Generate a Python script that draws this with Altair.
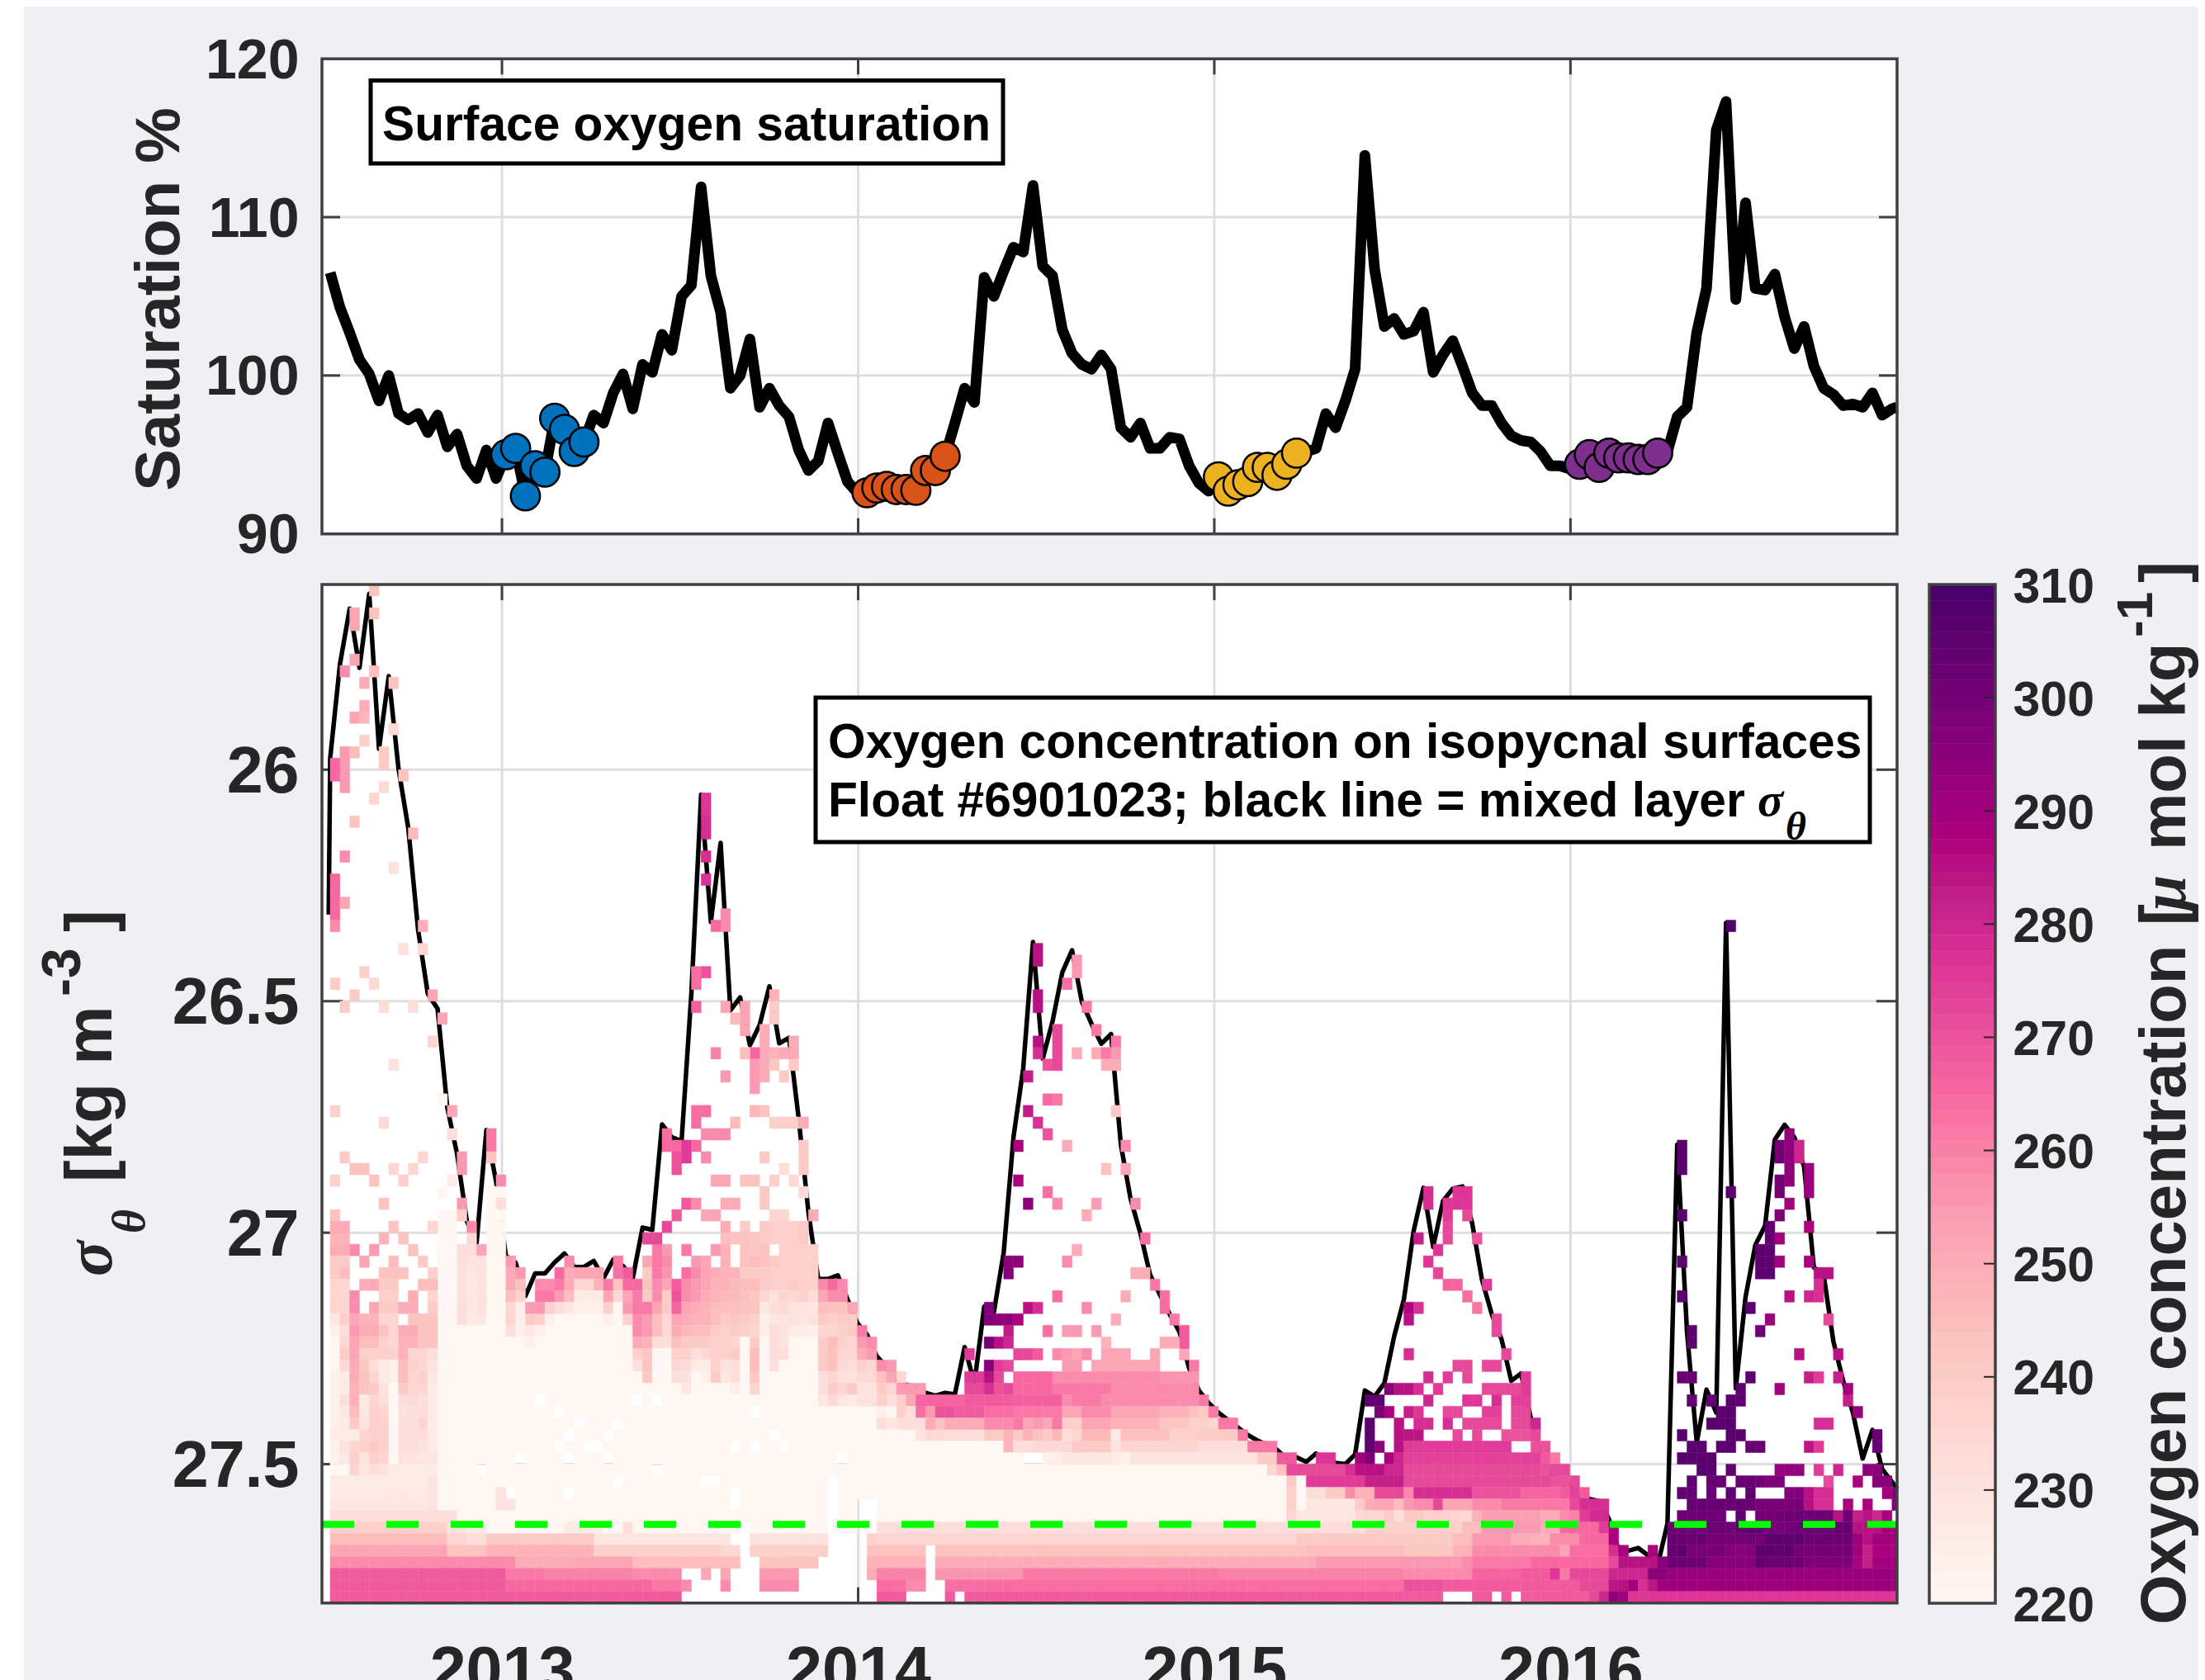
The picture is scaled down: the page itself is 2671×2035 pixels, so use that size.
import altair as alt
import pandas as pd

alt.data_transformers.disable_max_rows()

BG = "#f0eff4"
INK = "#262626"
FRAME = "#404040"
GRID = "#dedede"
SANS = "Liberation Sans"
SERIF = "Liberation Serif"

# float sampling: one profile per 10 days, positions as decimal years
T0 = 2012.5177
DT = 0.027406
XMIN, XMAX = 2012.4946, 2016.917
X_PX = [382, 2290]
YEARS = [2013, 2014, 2015, 2016]

SAT_TICKS = [90, 100, 110, 120]
SIG_TICKS = [26, 26.5, 27, 27.5]
O2_TICKS = [220, 230, 240, 250, 260, 270, 280, 290, 300, 310]
SIG_REF = 27.63

SAT = [106.5, 104.3, 102.7, 101.0, 100.1, 98.4, 100.0, 97.6, 97.2, 97.6, 96.4, 97.5, 95.5, 96.3, 94.3, 93.5,
       95.3, 93.5, 95.0, 95.4, 92.4, 94.3, 93.9, 97.3, 96.6, 95.2, 95.8, 97.5, 97.0, 98.9, 100.1, 97.9,
       100.7, 100.2, 102.6, 101.6, 105.0, 105.7, 111.9, 106.3, 104.0, 99.2, 100.0, 102.3, 98.0, 99.2, 98.1, 97.4,
       95.3, 94.0, 94.6, 97.0, 95.1, 93.3, 92.6, 92.6, 92.9, 93.0, 92.8, 92.8, 92.75, 94.0, 94.0, 94.9,
       97.0, 99.2, 98.3, 106.2, 105.0, 106.6, 108.1, 107.8, 112.0, 106.9, 106.3, 102.9, 101.4, 100.7, 100.4, 101.3,
       100.4, 96.7, 96.1, 97.0, 95.4, 95.4, 96.1, 96.0, 94.3, 93.2, 92.7, 93.6, 92.7, 93.1, 93.3, 94.2,
       94.2, 93.7, 94.4, 95.1, 95.2, 95.4, 97.6, 96.7, 98.4, 100.4, 113.9, 106.7, 103.1, 103.6, 102.6, 102.8,
       104.0, 100.2, 101.3, 102.2, 100.6, 98.9, 98.1, 98.1, 97.0, 96.2, 95.9, 95.8, 95.2, 94.3, 94.3, 94.1,
       94.4, 95.0, 94.2, 95.1, 94.8, 94.8, 94.7, 94.7, 95.1, 95.2, 97.4, 98.0, 102.7, 105.5, 115.5, 117.3,
       104.8, 110.9, 105.5, 105.4, 106.4, 103.7, 101.7, 103.1, 100.6, 99.2, 98.8, 98.1, 98.2, 98.0, 98.9, 97.5, 97.9]
SAT_LAST = 98.0  # reading at the right-hand frame

BLUE_IDX = [18, 19, 20, 21, 22, 23, 24, 25, 26]
ORANGE_IDX = [55, 56, 57, 58, 59, 60, 61, 62, 63]
YELLOW_IDX = [91, 92, 93, 94, 95, 96, 97, 98, 99]
PURPLE_IDX = [128, 129, 130, 131, 132, 133, 134, 135, 136]

MLD_FIRST = 26.313  # first reading, just before profile 0
MLD = [25.975, 25.772, 25.652, 25.780, 25.620, 25.955, 25.798, 25.998, 26.126, 26.345, 26.484, 26.516, 26.730, 26.83,
       26.975, 27.022, 26.778, 26.89, 27.05, 27.065, 27.137, 27.088, 27.088, 27.064, 27.045, 27.074, 27.074, 27.061,
       27.098, 27.058, 27.072, 27.098, 26.989, 26.994, 26.766, 26.794, 26.802, 26.484, 26.054, 26.329, 26.158, 26.52,
       26.492, 26.595, 26.551, 26.468, 26.591, 26.579, 26.754, 26.957, 27.10, 27.10, 27.092, 27.144, 27.195, 27.22,
       27.267, 27.29, 27.32, 27.328, 27.333, 27.346, 27.352, 27.346, 27.349, 27.247, 27.325, 27.16, 27.171, 27.043,
       26.794, 26.645, 26.372, 26.624, 26.544, 26.438, 26.39, 26.501, 26.549, 26.592, 26.571, 26.81, 26.927, 27.001,
       27.091, 27.134, 27.176, 27.214, 27.293, 27.341, 27.368, 27.389, 27.405, 27.421, 27.437, 27.449, 27.458, 27.469,
       27.488, 27.485, 27.495, 27.477, 27.492, 27.497, 27.5, 27.479, 27.341, 27.354, 27.325, 27.224, 27.144, 26.996,
       26.903, 27.031, 26.932, 26.905, 26.90, 26.98, 27.102, 27.176, 27.23, 27.32, 27.304, 27.40, 27.474, 27.522,
       27.535, 27.545, 27.57, 27.575, 27.58, 27.618, 27.687, 27.687, 27.681, 27.697, 27.718, 27.628, 26.81, 27.214,
       27.453, 27.339, 27.389, 26.331, 27.336, 27.139, 27.027, 26.985, 26.799, 26.767, 26.794, 26.858, 27.075, 27.091,
       27.235, 27.32, 27.389, 27.488, 27.426, 27.511, 27.538, 27.554]

# Oxygen cells: column c, row r (row r spans 25.6 + 0.025 r).
# pale background, then bands, then column profiles, then isolated cells.
WASH = [(11, 13, 54, 63, 220), (16, 18, 52, 63, 220), (11, 42, 63, 82, 220), (42, 43, 63, 81, 220),
        (43, 51, 63, 82, 220), (51, 52, 63, 77, 220), (52, 54, 63, 82, 220), (54, 56, 71, 79, 220),
        (56, 71, 73, 81, 220), (71, 98, 76, 81, 220)]

LEFT = {
    54: [243, 0, 0, 0, 0, 0, 0, 0, 0, 0, 0],
    55: [250, 250, 0, 0, 0, 0, 243, 0, 0, 0, 236],
    56: [248, 248, 0, 0, 0, 248, 0, 243, 0, 0, 0],
    57: [250, 250, 258, 0, 255, 0, 0, 0, 243, 0, 0],
    58: [240, 240, 0, 252, 0, 0, 245, 0, 0, 240, 0],
    59: [240, 245, 0, 0, 0, 243, 243, 243, 0, 0, 238],
    60: [236, 236, 0, 250, 250, 240, 240, 0, 0, 245, 245],
    61: [236, 236, 258, 0, 0, 238, 238, 0, 250, 0, 236],
    62: [236, 236, 258, 0, 252, 240, 240, 250, 250, 0, 240],
    63: [228, 238, 252, 248, 248, 236, 236, 0, 243, 243, 243],
    64: [224, 232, 255, 250, 250, 243, 236, 250, 250, 243, 243],
    65: [220, 236, 252, 245, 245, 238, 236, 248, 248, 243, 243],
    66: [220, 240, 252, 238, 238, 238, 238, 248, 236, 236, 232],
    67: [221, 235, 250, 242, 232, 226, 224, 245, 238, 236, 230],
    68: [223, 226, 250, 243, 236, 226, 224, 245, 236, 238, 228],
    69: [223, 226, 248, 243, 240, 230, 220, 240, 236, 236, 226],
    70: [223, 232, 248, 226, 236, 232, 220, 232, 234, 232, 226],
    71: [223, 228, 245, 228, 238, 236, 220, 230, 232, 232, 226],
    72: [224, 226, 240, 230, 238, 238, 220, 232, 232, 236, 226],
    73: [226, 226, 226, 236, 238, 238, 220, 232, 232, 232, 226],
    74: [224, 230, 236, 238, 240, 238, 220, 232, 232, 230, 226],
    75: [223, 228, 238, 230, 238, 236, 220, 230, 230, 229, 229],
    76: [220, 220, 236, 228, 232, 230, 226, 226, 226, 226, 226],
    77: [226, 226, 226, 226, 226, 226, 226, 226, 226, 226, 230],
    78: [227, 227, 227, 227, 227, 227, 227, 227, 227, 227, 230],
    79: [228, 228, 228, 228, 228, 228, 228, 228, 228, 228, 230],
}

PROFILES = {
    13: (57, [232, 232, 231, 231, 231, 232, 232]),
    14: (56, [235, 232, 230, 228, 228, 228, 228, 226]),
    15: (57, [252, 230, 230, 230, 230, 230, 228]),
    18: (58, [255, 250, 250, 244, 236, 236, 232]),
    19: (59, [255, 244, 238, 224, 224, 224]),
    20: (62, [255, 240, 228, 224]),
    21: (60, [258, 262, 255, 238, 224]),
    22: (60, [258, 262, 238, 224]),
    23: (59, [265, 262, 255, 232]),
    24: (58, [258, 250, 250, 245, 228]),
    25: (59, [252, 236, 226, 224]),
    26: (59, [252, 236, 226, 224]),
    27: (59, [252, 248, 226, 224]),
    28: (60, [262, 252, 238, 224]),
    29: (58, [262, 264, 243, 236, 220]),
    30: (59, [268, 265, 252, 255, 238]),
    31: (60, [265, 262, 262, 258, 258, 250, 238, 231]),
    32: (58, [252, 240, 243, 240, 262, 255, 255, 248, 242, 243, 241]),
    33: (57, [262, 262, 262, 258, 258, 252, 245, 245, 232]),
    34: (57, [255, 258, 256, 252, 240, 240, 235, 235, 232]),
    35: (60, [268, 270, 266, 252, 250, 244, 238, 235, 232]),
    36: (57, [262, 0, 264, 258, 258, 252, 250, 246, 240, 238, 233, 230, 228]),
    37: (58, [255, 258, 255, 255, 250, 248, 245, 240, 232, 226]),
    38: (58, [252, 252, 252, 250, 248, 248, 245, 240, 235, 226, 223]),
    39: (57, [255, 0, 250, 248, 248, 245, 245, 240, 238, 238, 238, 240]),
    40: (55, [250, 245, 248, 248, 248, 248, 246, 244, 240, 238, 238, 238, 230, 228]),
    41: (56, [243, 0, 0, 248, 246, 246, 244, 242, 240, 236, 240, 232, 232, 225]),
    42: (55, [240, 243, 243, 243, 240, 245, 244, 243, 240, 238]),
    43: (56, [242, 242, 245, 240, 245, 242, 243, 238, 236, 240, 245, 245, 242, 236]),
    44: (55, [240, 240, 243, 243, 240, 240, 235, 228, 224, 225]),
    45: (54, [236, 238, 238, 0, 240, 238, 238, 231, 232, 228, 232, 232, 232, 232]),
    46: (54, [236, 238, 238, 238, 238, 238, 238, 236, 234, 230, 230, 230, 232]),
    47: (55, [238, 238, 238, 238, 238, 240, 234, 230, 230, 226]),
    48: (55, [240, 240, 238, 238, 238, 238, 238, 230, 228, 226]),
    49: (57, [238, 238, 238, 238, 232, 228, 230, 224]),
    50: (60, [258, 252, 244, 240, 236, 240, 240, 240, 232, 232, 228]),
    51: (60, [265, 258, 243, 238, 236, 245, 244, 244, 236, 240, 234]),
    52: (60, [258, 258, 243, 240, 238, 238, 236, 234, 232, 236, 228]),
    53: (62, [252, 240, 240, 236, 236, 232, 231, 240, 226]),
    54: (64, [262, 255, 250, 238, 234, 230, 230]),
    55: (65, [258, 255, 236, 234, 230, 230]),
    56: (67, [258, 244, 240, 238, 224, 232]),
    57: (67, [255, 252, 236, 232, 220, 228]),
    124: (75, [268, 270]),
    125: (77, [270]),
    126: (77, [270, 268]),
    127: (78, [274, 272]),
}

ROWS = {
    66: [(65, 66, 275), (70, 72, 272), (72, 73, 268), (74, 75, 258), (75, 76, 255), (76, 77, 252), (77, 78, 258),
         (79, 82, 252), (84, 85, 252), (87, 88, 252), (110, 111, 278), (120, 121, 272)],
    67: [(67, 68, 296), (68, 69, 275), (69, 70, 272), (75, 77, 255), (78, 85, 252), (88, 89, 262), (115, 117, 272),
         (118, 120, 272)],
    68: [(58, 59, 236), (65, 67, 275), (67, 68, 285), (68, 69, 272), (70, 74, 265), (74, 85, 258), (85, 89, 256),
         (112, 113, 278), (114, 115, 275), (116, 117, 272), (122, 123, 275)],
    69: [(58, 61, 255), (65, 67, 272), (67, 68, 278), (68, 69, 270), (69, 70, 272), (70, 74, 265), (74, 80, 262),
         (80, 89, 258), (108, 109, 296), (109, 111, 285), (111, 112, 278), (113, 114, 275), (118, 122, 272),
         (122, 123, 275)],
    70: [(58, 59, 238), (59, 60, 252), (60, 65, 266), (65, 70, 268), (70, 75, 267), (75, 76, 258), (76, 79, 262),
         (79, 89, 258), (89, 90, 262), (112, 113, 280), (116, 118, 276), (119, 120, 278), (121, 123, 274),
         (106, 108, 305)],
    71: [(58, 59, 238), (59, 60, 232), (60, 61, 264), (61, 62, 255), (62, 64, 270), (64, 67, 268), (67, 70, 264),
         (70, 75, 262), (75, 77, 252), (77, 80, 258), (80, 85, 252), (85, 88, 248), (88, 89, 243), (89, 90, 240),
         (90, 91, 262), (107, 108, 300), (108, 109, 288), (110, 111, 282), (111, 112, 276), (114, 116, 272),
         (118, 120, 274), (121, 123, 272)],
    72: [(58, 61, 232), (61, 62, 250), (62, 63, 243), (63, 67, 250), (67, 70, 258), (70, 71, 262), (71, 72, 252),
         (72, 73, 255), (73, 74, 252), (74, 75, 262), (75, 77, 238), (77, 80, 252), (80, 85, 248), (85, 88, 242),
         (88, 90, 238), (90, 91, 236), (91, 93, 262), (106, 107, 305), (109, 110, 285), (111, 113, 278),
         (114, 115, 278), (116, 120, 272), (121, 123, 272), (123, 124, 280)],
    73: [(60, 61, 230), (61, 63, 234), (63, 67, 232), (67, 69, 240), (69, 70, 248), (70, 71, 240), (71, 72, 248),
         (72, 73, 244), (73, 74, 240), (74, 75, 246), (75, 76, 232), (76, 77, 236), (77, 80, 246), (80, 81, 226),
         (81, 86, 244), (86, 89, 238), (89, 93, 240), (93, 94, 262), (106, 107, 305), (109, 110, 285),
         (110, 112, 284), (115, 116, 272), (117, 118, 272), (120, 123, 270), (123, 124, 272)],
    74: [(69, 70, 247), (70, 72, 232), (72, 73, 234), (73, 76, 234), (76, 80, 240), (80, 81, 230), (81, 89, 236),
         (89, 94, 232), (94, 97, 262), (106, 107, 305), (107, 108, 295), (109, 110, 285), (110, 121, 275),
         (123, 125, 270)],
    75: [(73, 75, 224), (75, 80, 228), (80, 81, 226), (81, 82, 224), (82, 95, 230), (95, 97, 240), (97, 99, 268),
         (99, 100, 270), (101, 103, 276), (105, 106, 290), (106, 107, 298), (108, 109, 288), (109, 110, 280),
         (110, 125, 274), (125, 126, 262)],
    76: [(96, 97, 236), (97, 98, 243), (98, 104, 272), (104, 105, 278), (105, 108, 285), (108, 110, 280),
         (110, 127, 272)],
    77: [(98, 99, 240), (99, 100, 220), (100, 106, 275), (106, 110, 282), (110, 128, 272)],
    78: [(98, 99, 238), (99, 100, 220), (100, 102, 232), (102, 104, 240), (104, 105, 258), (105, 107, 248),
         (107, 110, 272), (110, 111, 258), (111, 117, 278), (117, 122, 270), (122, 128, 266), (128, 129, 268)],
    79: [(98, 99, 238), (99, 100, 220), (100, 105, 228), (105, 106, 240), (106, 107, 250), (107, 109, 252),
         (109, 110, 245), (110, 111, 255), (111, 113, 258), (113, 114, 272), (114, 117, 252), (117, 120, 258),
         (120, 127, 262), (127, 128, 266), (128, 131, 278), (139, 146, 303), (146, 151, 299), (151, 152, 285),
         (152, 154, 278), (155, 156, 288), (157, 158, 288), (160, 161, 296)],
    80: [(0, 13, 232), (98, 99, 236), (99, 105, 228), (105, 106, 234), (106, 108, 236), (108, 109, 240),
         (109, 110, 232), (110, 112, 241), (112, 115, 238), (115, 117, 236), (117, 118, 248), (118, 124, 254),
         (124, 126, 250), (126, 127, 258), (127, 128, 260), (128, 129, 275), (129, 131, 279), (138, 143, 302),
         (144, 146, 305), (146, 149, 300), (149, 156, 302), (156, 157, 282), (157, 158, 285), (158, 159, 286),
         (159, 160, 288)],
    81: [(0, 12, 238), (12, 14, 230), (14, 16, 227), (24, 28, 226), (30, 31, 232), (56, 106, 232), (106, 110, 238),
         (110, 116, 238), (116, 118, 245), (118, 124, 255), (124, 126, 250), (126, 130, 265), (130, 131, 275),
         (131, 132, 288), (137, 144, 302), (144, 147, 305), (147, 150, 300), (150, 156, 303), (156, 159, 285),
         (159, 161, 290)],
    82: [(0, 12, 245), (12, 14, 236), (14, 16, 232), (16, 27, 240), (27, 41, 229), (43, 51, 230), (55, 56, 238),
         (56, 61, 236), (61, 99, 236), (99, 110, 240), (110, 115, 240), (115, 117, 245), (117, 121, 255),
         (121, 123, 250), (123, 125, 248), (125, 128, 258), (128, 131, 265), (131, 132, 288), (137, 141, 303),
         (141, 147, 300), (147, 151, 305), (151, 156, 302), (156, 157, 292), (157, 158, 285), (158, 161, 290)],
    83: [(0, 12, 252), (12, 16, 243), (16, 27, 248), (27, 40, 238), (40, 42, 235), (43, 51, 238), (55, 61, 243),
         (62, 100, 243), (100, 110, 245), (110, 115, 242), (115, 117, 248), (117, 126, 258), (126, 127, 252),
         (127, 131, 264), (131, 132, 278), (132, 133, 288), (135, 136, 288), (137, 138, 303), (138, 139, 306),
         (139, 143, 299), (143, 146, 296), (146, 150, 305), (150, 156, 300), (156, 157, 290), (157, 158, 282),
         (158, 161, 288)],
    84: [(0, 19, 258), (19, 25, 250), (25, 31, 252), (31, 42, 245), (44, 50, 243), (55, 61, 248), (62, 101, 250),
         (101, 110, 255), (110, 116, 255), (116, 117, 258), (117, 123, 262), (123, 131, 265), (131, 132, 272),
         (132, 136, 285), (136, 137, 296), (137, 141, 302), (141, 146, 296), (146, 147, 304), (147, 151, 302),
         (151, 156, 298), (156, 157, 288), (157, 158, 282), (158, 161, 290)],
    85: [(0, 18, 268), (18, 22, 262), (22, 31, 260), (31, 36, 258), (38, 39, 252), (40, 41, 252), (44, 48, 255),
         (55, 56, 250), (56, 61, 260), (62, 71, 256), (71, 91, 262), (91, 110, 260), (110, 117, 258),
         (117, 122, 266), (122, 125, 268), (125, 126, 276), (126, 127, 262), (127, 131, 272), (131, 135, 280),
         (135, 137, 295), (137, 161, 292)],
    86: [(0, 18, 268), (18, 33, 265), (33, 36, 262), (36, 37, 258), (40, 41, 258), (44, 48, 258), (56, 59, 264),
         (59, 61, 258), (63, 110, 264), (110, 114, 270), (114, 122, 268), (122, 128, 268), (128, 131, 272),
         (131, 132, 284), (132, 133, 285), (133, 134, 290), (134, 135, 278), (135, 136, 284), (136, 161, 291)],
    87: [(0, 36, 268), (56, 59, 268), (63, 64, 268), (65, 110, 268), (110, 114, 268), (117, 119, 268),
         (120, 121, 268), (122, 129, 268), (129, 130, 272), (130, 131, 280), (131, 132, 295), (132, 133, 290),
         (133, 161, 276)],
}

HOLES = [(21, 70), (23, 71), (25, 72), (24, 73), (28, 73), (29, 72), (23, 74), (26, 74), (27, 74), (19, 75), (24, 75),
         (28, 75), (15, 76), (33, 76), (31, 70), (33, 70), (43, 71), (45, 73), (41, 74), (43, 74), (46, 74), (52, 75),
         (29, 77), (38, 77), (39, 77), (24, 78), (18, 78), (41, 78), (41, 79), (99, 75), (143, 80), (145, 80)]

SPECKS_2012 = [(4, 0, 243), (4, 2, 243), (2, 2, 252), (2, 3, 252), (2, 6, 252), (1, 7, 258), (4, 7, 244), (3, 8, 250),
               (6, 8, 243), (3, 10, 250), (2, 11, 252), (3, 11, 247), (6, 12, 234), (3, 13, 238), (1, 14, 255),
               (1, 15, 255), (1, 16, 255), (1, 17, 255), (2, 14, 245), (0, 15, 265), (0, 16, 265), (5, 14, 240),
               (5, 15, 240), (7, 16, 243), (5, 17, 233), (4, 18, 236), (2, 20, 243), (8, 21, 246), (1, 23, 258),
               (6, 24, 231), (0, 25, 265), (0, 26, 265), (0, 27, 265), (0, 28, 265), (0, 29, 258), (1, 27, 252),
               (9, 29, 250), (7, 31, 231), (9, 31, 235), (3, 33, 238), (0, 34, 240), (4, 34, 234), (2, 35, 240),
               (10, 35, 252), (1, 36, 240), (5, 36, 233), (8, 36, 232), (11, 37, 252), (10, 39, 236), (6, 41, 231),
               (11, 44, 220), (0, 45, 238), (12, 45, 252), (5, 46, 234), (12, 47, 232), (16, 47, 262), (16, 48, 262),
               (1, 49, 240), (9, 49, 236), (13, 49, 255), (13, 50, 255), (16, 49, 243), (2, 50, 243), (3, 50, 243),
               (6, 50, 236), (8, 50, 236), (0, 51, 238), (4, 51, 243), (7, 51, 238), (12, 51, 226), (17, 51, 258),
               (11, 52, 220), (5, 53, 243), (13, 53, 255), (17, 53, 232), (11, 54, 220), (13, 54, 238), (14, 55, 258),
               (17, 78, 230), (18, 79, 230), (17, 79, 230)]

SPECKS_2013 = [(38, 18, 276), (38, 19, 276), (38, 20, 278), (38, 21, 278), (38, 23, 278), (38, 25, 277), (40, 28, 258),
               (40, 29, 258), (39, 29, 265), (37, 33, 264), (37, 34, 264), (38, 33, 270), (37, 36, 267), (40, 36, 252),
               (42, 36, 252), (42, 37, 252), (42, 38, 252), (41, 37, 246), (45, 35, 248), (45, 36, 240), (45, 37, 240),
               (47, 39, 250), (47, 40, 250), (44, 38, 250), (44, 39, 250), (44, 40, 250), (44, 41, 250), (44, 42, 250),
               (43, 40, 266), (43, 41, 255), (43, 42, 255), (43, 43, 255), (42, 40, 245), (39, 40, 260), (45, 40, 248),
               (46, 40, 250), (45, 41, 242), (47, 41, 240), (40, 42, 255), (46, 42, 240), (37, 45, 264), (37, 46, 264),
               (38, 45, 264), (43, 45, 247), (44, 45, 243), (45, 46, 238), (46, 46, 238), (47, 46, 238), (48, 46, 250),
               (41, 46, 245), (38, 47, 258), (39, 47, 258), (40, 47, 258), (48, 48, 240), (34, 47, 264), (34, 48, 265),
               (35, 48, 265), (36, 48, 275), (37, 48, 265), (35, 49, 270), (35, 50, 270), (36, 49, 275), (38, 49, 258),
               (44, 49, 240), (48, 49, 240), (48, 50, 240), (46, 50, 232), (39, 51, 252), (40, 51, 252), (42, 51, 243),
               (43, 51, 243), (45, 51, 238), (47, 51, 234), (48, 52, 234), (44, 52, 240), (44, 53, 240), (36, 53, 268),
               (37, 53, 258), (40, 53, 250), (41, 53, 250), (49, 54, 250), (35, 54, 268), (38, 54, 252), (39, 54, 252),
               (34, 55, 272), (32, 56, 272), (33, 56, 272)]

SPECKS_2014 = [(72, 31, 285), (72, 32, 285), (76, 32, 255), (76, 33, 255), (75, 34, 264), (77, 36, 262), (72, 35, 285),
               (72, 36, 285), (78, 38, 262), (74, 38, 272), (74, 39, 272), (74, 40, 272), (72, 39, 285), (72, 40, 278),
               (73, 41, 270), (74, 41, 272), (76, 40, 250), (78, 40, 250), (79, 40, 262), (80, 39, 262), (80, 40, 255),
               (79, 41, 250), (80, 41, 250), (71, 42, 282), (73, 44, 265), (74, 44, 262), (80, 45, 240), (71, 45, 283),
               (72, 46, 277), (73, 47, 270), (75, 48, 250), (81, 48, 258), (70, 48, 288), (79, 50, 243), (81, 50, 252),
               (70, 51, 288), (73, 52, 264), (71, 53, 295), (74, 53, 258), (78, 53, 254), (82, 53, 258), (77, 54, 250),
               (83, 56, 264), (76, 57, 250), (75, 58, 258), (69, 58, 295), (70, 58, 295), (69, 59, 297), (82, 59, 250),
               (83, 59, 250), (84, 60, 262), (85, 61, 264), (85, 62, 264), (74, 61, 264), (81, 61, 250), (67, 62, 298),
               (67, 63, 297), (68, 63, 294), (69, 63, 294), (70, 63, 288), (71, 62, 285), (72, 62, 278), (77, 62, 258),
               (86, 63, 262), (80, 63, 250), (69, 64, 283), (73, 64, 264), (75, 64, 255), (76, 64, 255), (78, 64, 255),
               (87, 64, 268), (87, 65, 268), (67, 65, 300), (68, 65, 285), (69, 65, 280), (79, 65, 248), (85, 65, 250),
               (86, 65, 250)]

SPECKS_2015 = [(112, 52, 278), (112, 53, 278), (114, 53, 276), (114, 54, 275), (114, 55, 272), (114, 56, 272),
               (115, 52, 276), (116, 52, 276), (115, 53, 276), (116, 53, 276), (116, 54, 272), (111, 56, 282),
               (117, 56, 270), (113, 57, 276), (112, 58, 276), (113, 59, 272), (114, 60, 266), (115, 60, 266),
               (116, 61, 264), (117, 62, 262), (118, 60, 275), (110, 62, 287), (110, 63, 285), (111, 62, 277),
               (119, 63, 272), (119, 64, 272), (98, 75, 268), (106, 74, 305)]

SPECKS_2016 = [(138, 48, 305), (138, 49, 305), (138, 50, 305), (138, 54, 306), (143, 29, 308), (143, 52, 306),
               (138, 58, 306), (138, 61, 306), (139, 64, 306), (139, 65, 306), (138, 68, 303), (139, 68, 303),
               (139, 70, 304), (141, 70, 304), (143, 70, 305), (144, 70, 305), (144, 69, 305), (145, 68, 306),
               (142, 71, 306), (143, 71, 306), (141, 72, 306), (142, 72, 306), (143, 72, 306), (143, 73, 306),
               (144, 73, 306), (138, 73, 306), (139, 74, 306), (140, 74, 306), (142, 74, 306), (143, 74, 306),
               (145, 74, 303), (146, 74, 303), (138, 75, 306), (139, 75, 306), (140, 75, 306), (141, 75, 306),
               (140, 76, 306), (141, 76, 306), (143, 76, 305), (139, 77, 304), (141, 77, 303), (142, 77, 303),
               (144, 77, 303), (145, 77, 303), (146, 77, 300), (147, 77, 298), (148, 77, 298), (138, 78, 304),
               (139, 78, 304), (141, 78, 303), (143, 78, 305), (145, 78, 305), (149, 78, 297), (150, 78, 297),
               (146, 57, 305), (146, 58, 305), (146, 59, 305), (147, 57, 305), (147, 58, 305), (147, 59, 305),
               (147, 55, 304), (147, 56, 304), (148, 56, 290), (148, 58, 290), (148, 48, 300), (148, 49, 300),
               (149, 47, 294), (149, 48, 294), (149, 49, 294), (149, 50, 294), (149, 51, 294), (150, 48, 280),
               (150, 49, 280), (148, 51, 300), (148, 52, 300), (149, 53, 290), (148, 54, 298), (151, 50, 292),
               (151, 51, 292), (151, 52, 292), (151, 55, 287), (151, 58, 288), (152, 59, 285), (153, 59, 285),
               (152, 60, 278), (152, 61, 278), (151, 61, 280), (149, 61, 285), (145, 62, 306), (147, 63, 292),
               (146, 64, 302), (153, 63, 272), (154, 66, 285), (150, 66, 285), (151, 68, 282), (152, 68, 275),
               (154, 68, 282), (148, 69, 290), (155, 69, 290), (155, 70, 282), (156, 71, 292), (152, 72, 278),
               (153, 72, 278), (151, 74, 284), (152, 74, 275), (158, 73, 303), (158, 74, 303), (148, 76, 293),
               (149, 76, 293), (150, 76, 293), (152, 76, 275), (154, 76, 280), (157, 76, 295), (158, 76, 295),
               (153, 77, 272), (156, 77, 288), (158, 77, 296), (159, 77, 296), (151, 78, 285), (152, 78, 278),
               (153, 78, 278), (159, 78, 290), (160, 78, 296), (158, 80, 280), (154, 80, 285)]

COLORMAP_STOPS = [220, 231.25, 242.5, 253.75, 265, 276.25, 287.5, 298.75, 310]
COLORMAP = ["#fff7f3", "#fde0dd", "#fcc5c0", "#fa9fb5", "#f768a1", "#dd3497", "#ae017e", "#7a0177", "#49006a"]
CB_LEVELS = [220 + 90 * k / 64 for k in range(65)]


def build_cells():
    grid = {}
    for c0, c1, r0, r1, v in WASH:
        for c in range(c0, c1):
            for r in range(r0, r1):
                grid[(c, r)] = v
    for r, vals in LEFT.items():
        for c, v in enumerate(vals):
            if v:
                grid[(c, r)] = v
    for r, runs in ROWS.items():
        for c0, c1, v in runs:
            for c in range(c0, c1):
                grid[(c, r)] = v
    for c, (top, vals) in PROFILES.items():
        for k, v in enumerate(vals):
            if v:
                grid[(c, top + k)] = v
    for group in (SPECKS_2012, SPECKS_2013, SPECKS_2014, SPECKS_2015, SPECKS_2016):
        for c, r, v in group:
            grid[(c, r)] = v
    for key in HOLES:
        grid.pop(key, None)
    rows = []
    for (c, r), v in grid.items():
        rows.append({"x0": T0 + DT * c, "x1": min(T0 + DT * (c + 1), XMAX),
                     "y0": 25.6 + 0.025 * r, "y1": 25.6 + 0.025 * (r + 1), "v": v})
    return pd.DataFrame(rows)


cells = build_cells()
sat_df = pd.DataFrame({"t": [T0 + DT * i for i in range(len(SAT))] + [XMAX], "sat": SAT + [SAT_LAST]})
mld_df = pd.DataFrame({"t": [T0 - 0.15 * DT] + [min(T0 + DT * i, XMAX) for i in range(len(MLD))],
                       "sig": [MLD_FIRST] + MLD})
cb_df = pd.DataFrame({"lo": CB_LEVELS[:-1], "hi": CB_LEVELS[1:]})
cb_df["mid"] = (cb_df.lo + cb_df.hi) / 2

x_scale = alt.Scale(domain=[XMIN, XMAX], range=X_PX, nice=False, zero=False)
sat_scale = alt.Scale(domain=[90, 120], range=[638.7, 63.2], nice=False, zero=False)
sig_scale = alt.Scale(domain=[25.6, 27.8], range=[700, 1933.8], nice=False, zero=False)
o2_scale = alt.Scale(domain=[220, 310], range=[1934, 700], nice=False, zero=False)
col_scale = alt.Scale(domain=COLORMAP_STOPS, range=COLORMAP)

ONE = pd.DataFrame({"n": [0]})
W, H = 2655, 2027


def xq(field, axis=None):
    return alt.X(field, type="quantitative", scale=x_scale, axis=axis)


def yq(field, scale, axis=None):
    return alt.Y(field, type="quantitative", scale=scale, axis=axis)


def chrome_rect(x0, x1, y0, y1, **kw):
    return alt.Chart(ONE).mark_rect(**kw).encode(x=alt.value(x0), x2=alt.value(x1), y=alt.value(y0), y2=alt.value(y1))


def vrules(values, y0, y1, color, width):
    d = pd.DataFrame({"t": values})
    return alt.Chart(d).mark_rule(color=color, strokeWidth=width).encode(
        x=xq("t"), y=alt.value(y0), y2=alt.value(y1))


def hrules(values, scale, x0, x1, color, width):
    d = pd.DataFrame({"v": values})
    return alt.Chart(d).mark_rule(color=color, strokeWidth=width).encode(
        y=yq("v", scale), x=alt.value(x0), x2=alt.value(x1))


def label(txt, x, y, size, angle=0, font=SANS, style="normal", align="left", weight="bold", color=INK, baseline="alphabetic"):
    return alt.Chart(ONE).mark_text(text=txt, font=font, fontSize=size, fontWeight=weight, fontStyle=style,
                                    angle=angle, align=align, baseline=baseline, color=color).encode(
        x=alt.value(x), y=alt.value(y))


def y_axis(values, size, offset, pad, **kw):
    return alt.Axis(values=values, orient="left", offset=offset, domain=False, ticks=False, tickSize=0, grid=False,
                    labelFont=SANS, labelFontWeight="bold", labelFontSize=size, labelColor=INK, labelPadding=pad,
                    labelOffset=3, labelOverlap=False, labelFlush=False, labelBound=False, zindex=1, **kw)


# --- upper panel -------------------------------------------------------------
TOP_T, TOP_B, LFT, RGT = 63.2, 638.7, 382, 2290
sat_axis = y_axis(SAT_TICKS, 68, -LFT, 28, title="Saturation %", titleFont=SANS, titleFontWeight="bold",
                  titleFontSize=76, titleColor=INK, titleAngle=270, titleAlign="center", titleBaseline="alphabetic",
                  titleX=208 - LFT, titleY=354)

marker = dict(size=1250, filled=True, stroke="black", strokeWidth=2.5, opacity=1)


def sat_points(idx, color):
    d = pd.DataFrame({"t": [T0 + DT * i for i in idx], "sat": [SAT[i] for i in idx]})
    return alt.Chart(d).mark_point(fill=color, **marker).encode(x=xq("t"), y=yq("sat", sat_scale))


upper = [
    chrome_rect(LFT, RGT, TOP_T, TOP_B, fill="white"),
    hrules(SAT_TICKS[1:3], sat_scale, LFT, RGT, GRID, 3),
    vrules(YEARS, TOP_T, TOP_B, GRID, 3),
    vrules(YEARS, TOP_T, TOP_T + 19, FRAME, 3),
    vrules(YEARS, TOP_B - 19, TOP_B, FRAME, 3),
    hrules(SAT_TICKS[1:3], sat_scale, LFT, LFT + 22, FRAME, 3),
    hrules(SAT_TICKS[1:3], sat_scale, RGT - 22, RGT, FRAME, 3),
    alt.Chart(sat_df).mark_line(color="black", strokeWidth=13, strokeJoin="round").encode(
        x=xq("t"), y=yq("sat", sat_scale, axis=sat_axis)),
    sat_points(BLUE_IDX, "#0072BD"),
    sat_points(ORANGE_IDX, "#D95319"),
    sat_points(YELLOW_IDX, "#EDB120"),
    sat_points(PURPLE_IDX, "#7E2F8E"),
    chrome_rect(LFT, RGT, TOP_T, TOP_B, fillOpacity=0, stroke=FRAME, strokeWidth=3.5),
    chrome_rect(449 - 8, 1215 - 8, 97.5 - 8, 198 - 8, fill="white", stroke="black", strokeWidth=5),
    label("Surface oxygen saturation", 463 - 8, 170 - 8, 58.7, color="black"),
]

# --- lower panel -------------------------------------------------------------
SIG_T, SIG_B = 700, 1933.8
sig_axis = y_axis(SIG_TICKS, 79, -LFT, 28, title=None, format="~g")
year_axis = alt.Axis(values=YEARS, orient="bottom", offset=-(H - SIG_B), format="d", domain=False, ticks=False,
                     tickSize=0, grid=False, title=None, labelFont=SANS, labelFontWeight="bold", labelFontSize=79,
                     labelColor=INK, labelPadding=46, labelOverlap=False, labelFlush=False, labelBound=False, zindex=1)

year_text = pd.DataFrame({"t": YEARS})

lower = [
    chrome_rect(LFT, RGT, SIG_T, SIG_B, fill="white"),
    hrules(SIG_TICKS, sig_scale, LFT, RGT, GRID, 3),
    vrules(YEARS, SIG_T, SIG_B, GRID, 3),
    vrules(YEARS, SIG_T, SIG_T + 19, FRAME, 3),
    alt.Chart(year_text).mark_rule(color=FRAME, strokeWidth=3).encode(
        x=xq("t", axis=year_axis), y=alt.value(SIG_B - 19), y2=alt.value(SIG_B)),
    hrules(SIG_TICKS, sig_scale, LFT, LFT + 25, FRAME, 3),
    hrules(SIG_TICKS, sig_scale, RGT - 25, RGT, FRAME, 3),
    alt.Chart(mld_df).mark_line(color="black", strokeWidth=5.5, strokeJoin="round").encode(
        x=xq("t"), y=yq("sig", sig_scale, axis=sig_axis)),
    alt.Chart(cells).mark_rect(strokeWidth=0.5).encode(
        x=xq("x0"), x2="x1", y=yq("y0", sig_scale), y2="y1",
        color=alt.Color("v:Q", scale=col_scale, legend=None),
        stroke=alt.Color("v:Q", scale=col_scale, legend=None)),
    alt.Chart(pd.DataFrame({"s": [SIG_REF]})).mark_rule(color="#00ff00", strokeWidth=8.5, strokeDash=[39, 39]).encode(
        y=yq("s", sig_scale), x=alt.value(LFT), x2=alt.value(RGT)),
    chrome_rect(LFT, RGT, SIG_T, SIG_B, fillOpacity=0, stroke=FRAME, strokeWidth=3.5),
    chrome_rect(988 - 8, 2265 - 8, 845 - 8, 1020 - 8, fill="white", stroke="black", strokeWidth=5),
    label("Oxygen concentration on isopycnal surfaces", 1003 - 8, 918 - 8, 58.7, color="black"),
    label("Float #6901023; black line = mixed layer", 1003 - 8, 989 - 8, 58.7, color="black"),
    label("σ", 2129 - 8, 988 - 8, 58, font=SERIF, style="italic", color="black"),
    label("θ", 2163 - 8, 1017 - 8, 48, font=SERIF, style="italic", color="black"),
    label("σ", 135 - 8, 1546 - 8, 80, angle=270, font=SERIF, style="italic"),
    label("θ", 175 - 8, 1494 - 8, 56, angle=270, font=SERIF, style="italic"),
    label("[kg m", 135 - 8, 1432 - 8, 80, angle=270),
    label("-3", 97 - 8, 1207 - 8, 66, angle=270),
    label("]", 135 - 8, 1129 - 8, 80, angle=270),
]

# --- colour bar --------------------------------------------------------------
CB_L, CB_R = 2329, 2409
cb_axis = alt.Axis(values=O2_TICKS, orient="right", offset=-(W - CB_R), domain=False, ticks=False, tickSize=0, grid=False,
                   title=None, labelFont=SANS, labelFontWeight="bold", labelFontSize=59, labelColor=INK, labelPadding=21,
                   labelOffset=3, labelOverlap=False, labelFlush=False, labelBound=False, zindex=1)

cbar = [
    alt.Chart(cb_df).mark_rect(strokeWidth=0.5).encode(
        x=alt.value(CB_L), x2=alt.value(CB_R),
        y=yq("lo", o2_scale, axis=cb_axis), y2="hi",
        color=alt.Color("mid:Q", scale=col_scale, legend=None),
        stroke=alt.Color("mid:Q", scale=col_scale, legend=None)),
    hrules(O2_TICKS[1:-1], o2_scale, CB_R - 14, CB_R, INK, 2),
    chrome_rect(CB_L, CB_R, 700, 1934, fillOpacity=0, stroke=FRAME, strokeWidth=3.5),
    label("Oxygen concentration", 2647 - 8, 1968 - 8, 78, angle=270),
    label("[", 2647 - 8, 1121 - 8, 78, angle=270),
    label("μ", 2647 - 8, 1103 - 8, 78, angle=270, font=SERIF, style="italic"),
    label("mol kg", 2647 - 8, 1030 - 8, 78, angle=270),
    label("-1", 2607 - 8, 772 - 8, 62, angle=270),
    label("]", 2647 - 8, 706 - 8, 78, angle=270),
]

chart = alt.layer(
    chrome_rect(0, 21, 0, H, fill="white"),
    *upper, *lower, *cbar,
).resolve_scale(y="independent").resolve_axis(x="independent").properties(
    width=W, height=H, padding=0, background=BG,
    autosize=alt.AutoSizeParams(type="none", contains="padding"),
).configure_view(stroke=None)

chart.save("out.html", embed_options={"renderer": "svg", "actions": False})
